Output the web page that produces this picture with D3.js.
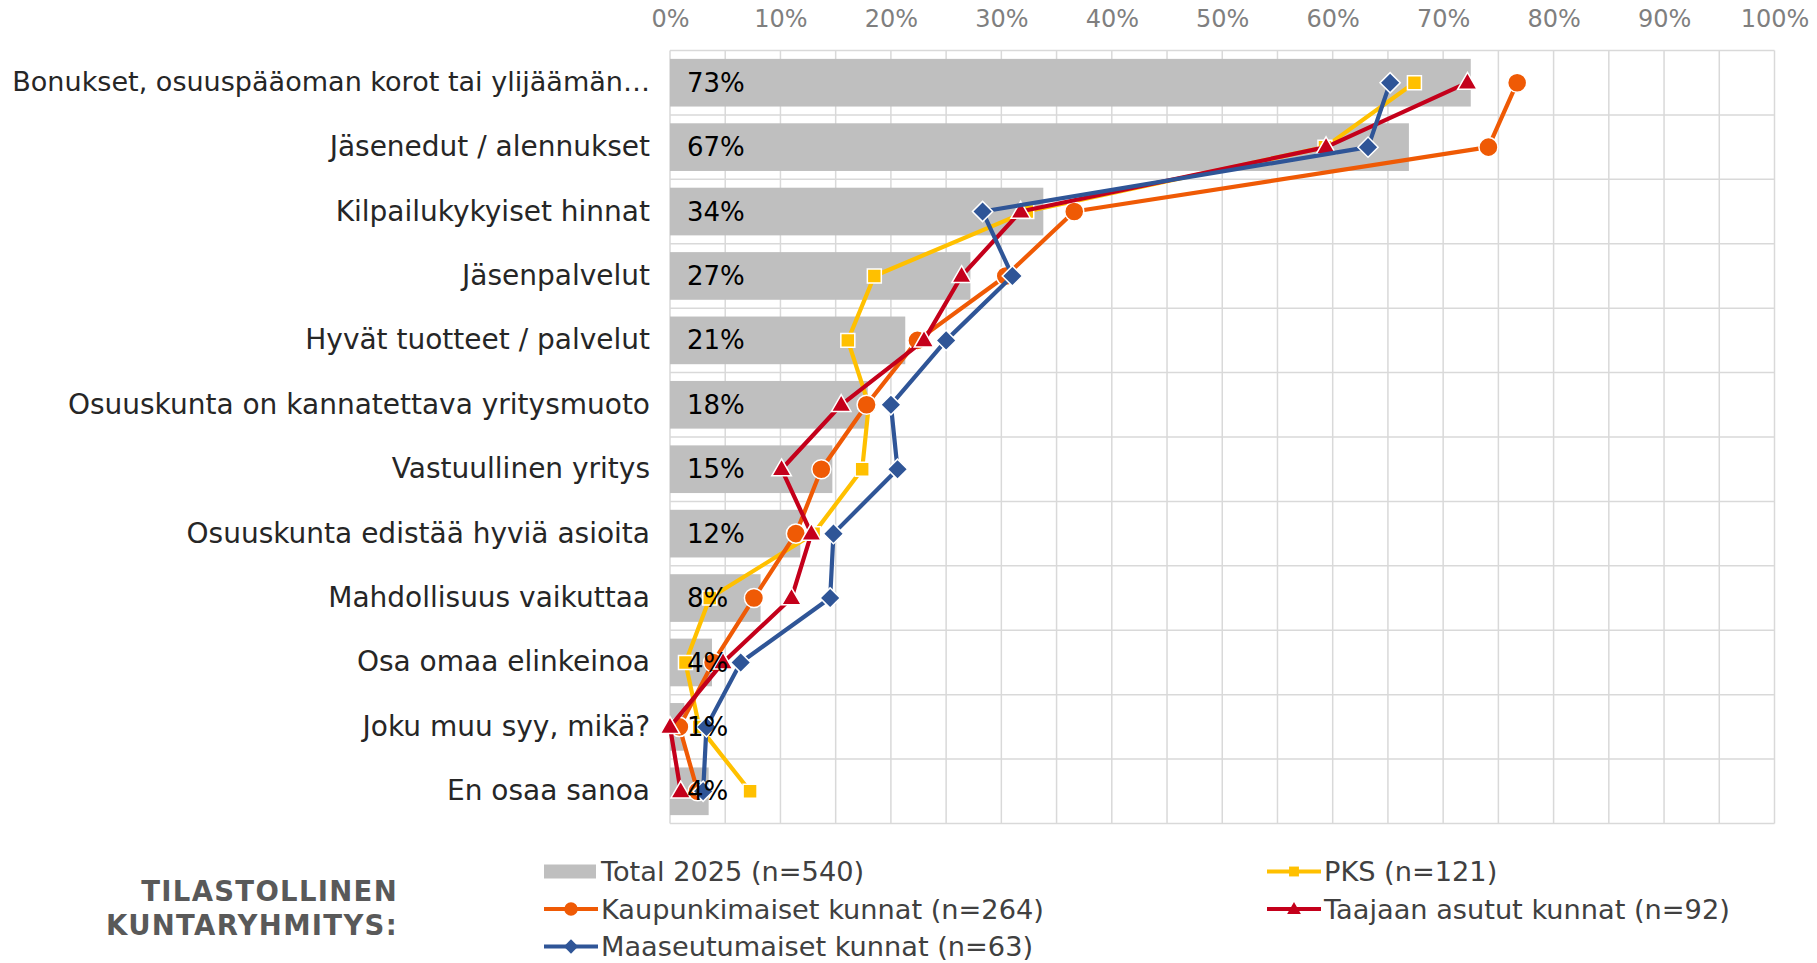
<!DOCTYPE html>
<html lang="fi">
<head>
<meta charset="utf-8">
<script src="https://cdn.jsdelivr.net/npm/d3@7"></script>
<style>
  html, body { margin: 0; padding: 0; background: #fff; }
  svg { display: block; font-family: "DejaVu Sans", Verdana, sans-serif; }
</style>
</head>
<body>
<div id="graph"></div>
<script>
/* Chart data */
const categories = [
    "Bonukset, osuuspääoman korot tai ylijäämän…",
    "Jäsenedut / alennukset",
    "Kilpailukykyiset hinnat",
    "Jäsenpalvelut",
    "Hyvät tuotteet / palvelut",
    "Osuuskunta on kannatettava yritysmuoto",
    "Vastuullinen yritys",
    "Osuuskunta edistää hyviä asioita",
    "Mahdollisuus vaikuttaa",
    "Osa omaa elinkeinoa",
    "Joku muu syy, mikä?",
    "En osaa sanoa"
]
const total2025 = [72.5, 66.9, 33.8, 27.2, 21.3, 17.9, 14.7, 11.8, 8.2, 3.8, 1.3, 3.5]
const pks = [67.4, 59.3, 32.3, 18.5, 16.1, 18.0, 17.4, 13.0, 3.6, 1.4, 2.65, 7.25]
const kaupunkimaiset = [76.7, 74.1, 36.6, 30.4, 22.4, 17.8, 13.7, 11.4, 7.6, 3.9, 0.85, 2.5]
const taajaanAsutut = [72.2, 59.4, 31.75, 26.4, 23.0, 15.5, 10.1, 12.8, 11.0, 4.8, 0, 0.97]
const maaseutumaiset = [65.2, 63.2, 28.3, 31.0, 25.0, 20.0, 20.6, 14.8, 14.5, 6.4, 3.3, 3.0]
const xTicks = [0, 10, 20, 30, 40, 50, 60, 70, 80, 90, 100]
const gridTicks = d3.range(0, 101, 5)
const legendNames = [
    "Total 2025 (n=540)",
    "PKS (n=121)",
    "Kaupunkimaiset kunnat (n=264)",
    "Taajaan asutut kunnat (n=92)",
    "Maaseutumaiset kunnat (n=63)"
]
const groupTitle = ["TILASTOLLINEN", "KUNTARYHMITYS:"]

window.addEventListener("DOMContentLoaded", main)

function main() {
    const W = 1817, H = 963
    const left = 670, right = 1774.5, top = 50.5, bottom = 823.5
    const barColor = "#bfbfbf"
    const gridColor = "#d9d9d9"

    const lineSeries = [
        { name: legendNames[1], values: pks, color: "#ffc000", shape: "square" },
        { name: legendNames[2], values: kaupunkimaiset, color: "#ef5a05", shape: "circle" },
        { name: legendNames[3], values: taajaanAsutut, color: "#c4001b", shape: "triangle" },
        { name: legendNames[4], values: maaseutumaiset, color: "#2f5597", shape: "diamond" }
    ]

    const svg = d3.select("#graph").append("svg").attr("width", W).attr("height", H)

    const x = d3.scaleLinear().domain([0, 100]).range([left, right])
    const y = d3.scaleBand().domain(categories).range([top, bottom])
        .paddingInner(0.26).paddingOuter(0.13)
    const step = y.step()
    const yc = (c) => y(c) + y.bandwidth() / 2

    /* Grid */
    const grid = svg.append("g").attr("stroke", gridColor).attr("stroke-width", 1.5)
    grid.selectAll(".vgrid").data(gridTicks).enter().append("line")
        .attr("x1", d => x(d)).attr("x2", d => x(d))
        .attr("y1", top).attr("y2", bottom)
    const hLines = d3.range(categories.length + 1)
    grid.selectAll(".hgrid").data(hLines).enter().append("line")
        .attr("x1", left).attr("x2", right)
        .attr("y1", d => top + d * step).attr("y2", d => top + d * step)

    /* Top axis */
    const xAxis = d3.axisTop(x).tickValues(xTicks).tickFormat(d => d + "%").tickSize(0).tickPadding(24)
    const gx = svg.append("g").attr("transform", "translate(0," + top + ")").call(xAxis)
    gx.select(".domain").remove()
    gx.selectAll("text").attr("fill", "#7f7f7f").style("font-size", "24px")
        .style("font-family", "'DejaVu Sans', Verdana, sans-serif")

    /* Category axis */
    const yAxis = d3.axisLeft(y).tickSize(0).tickPadding(20)
    const gy = svg.append("g").attr("transform", "translate(" + left + ",0)").call(yAxis)
    gy.select(".domain").remove()
    gy.selectAll("text").attr("fill", "#262626").style("font-size", "28px")
        .style("font-family", "'DejaVu Sans', Verdana, sans-serif")
        .each(function () {
            // shrink a label that would not fit on the left side
            const maxW = left - 20 - 12
            const w = this.getComputedTextLength()
            if (w > maxW) d3.select(this).style("font-size", (28 * maxW / w) + "px")
        })

    /* Bars */
    svg.selectAll(".bar").data(total2025).enter().append("rect")
        .attr("class", "bar")
        .attr("x", x(0))
        .attr("y", (d, i) => y(categories[i]))
        .attr("width", d => x(d) - x(0))
        .attr("height", y.bandwidth())
        .attr("fill", barColor)

    /* Lines with markers */
    const symbolFor = (shape, scale) => {
        if (shape === "square") return d3.symbol(d3.symbolSquare, 195 * scale)()
        if (shape === "circle") return d3.symbol(d3.symbolCircle, 285 * scale)()
        if (shape === "triangle") return d3.symbol(d3.symbolTriangle, 165 * scale)()
        return d3.symbol(d3.symbolSquare, 205 * scale)()
    }
    const line = d3.line().x(d => x(d.v)).y(d => yc(d.c))

    lineSeries.forEach(s => {
        const pts = s.values.map((v, i) => ({ v: v, c: categories[i] }))
        const g = svg.append("g")
        g.append("path").datum(pts)
            .attr("d", line)
            .attr("fill", "none")
            .attr("stroke", s.color)
            .attr("stroke-width", 4.2)
            .attr("stroke-linejoin", "round")
        g.selectAll(".marker").data(pts).enter().append("path")
            .attr("d", symbolFor(s.shape, 1))
            .attr("transform", d => "translate(" + x(d.v) + "," + (yc(d.c) + (s.shape === "triangle" ? 1 : 0)) + ")" + (s.shape === "diamond" ? " rotate(45)" : ""))
            .attr("fill", s.color)
            .attr("stroke", "#fff")
            .attr("stroke-width", 1.5)
    })

    /* Data labels */
    svg.selectAll(".dlabel").data(total2025).enter().append("text")
        .attr("x", x(0) + 17)
        .attr("y", (d, i) => yc(categories[i]))
        .attr("dy", "0.35em")
        .style("font-size", "26px")
        .attr("fill", "#000")
        .text(d => Math.round(d) + "%")

    /* Legend */
    const legendItems = [{ name: legendNames[0], color: barColor, shape: "bar" }].concat(lineSeries)
    const legend = svg.selectAll(".legend").data(legendItems).enter().append("g")
        .attr("transform", (d, i) => "translate(" + (544 + (i % 2) * 723) + "," + (871.5 + Math.floor(i / 2) * 37.5) + ")")
    legend.each(function (d) {
        const g = d3.select(this)
        if (d.shape === "bar") {
            g.append("rect").attr("x", 0).attr("y", -7).attr("width", 52).attr("height", 14).attr("fill", d.color)
        } else {
            g.append("line").attr("x1", 0).attr("x2", 54).attr("y1", 0).attr("y2", 0)
                .attr("stroke", d.color).attr("stroke-width", 4)
            g.append("path").attr("d", symbolFor(d.shape, 0.5))
                .attr("transform", "translate(27," + (d.shape === "triangle" ? 1 : 0) + ")" + (d.shape === "diamond" ? " rotate(45)" : ""))
                .attr("fill", d.color)
        }
        g.append("text").attr("x", 57).attr("dy", "0.35em")
            .style("font-size", "27.2px").attr("fill", "#404040")
            .text(d.name)
    })

    svg.selectAll(".gtitle").data(groupTitle).enter().append("text")
        .attr("x", 398)
        .attr("y", (d, i) => 891 + i * 34)
        .attr("dy", "0.35em")
        .attr("text-anchor", "end")
        .style("font-size", "27.5px")
        .style("font-weight", "bold")
        .style("letter-spacing", "1.3px")
        .attr("fill", "#595959")
        .text(d => d)
}
</script>
</body>
</html>
